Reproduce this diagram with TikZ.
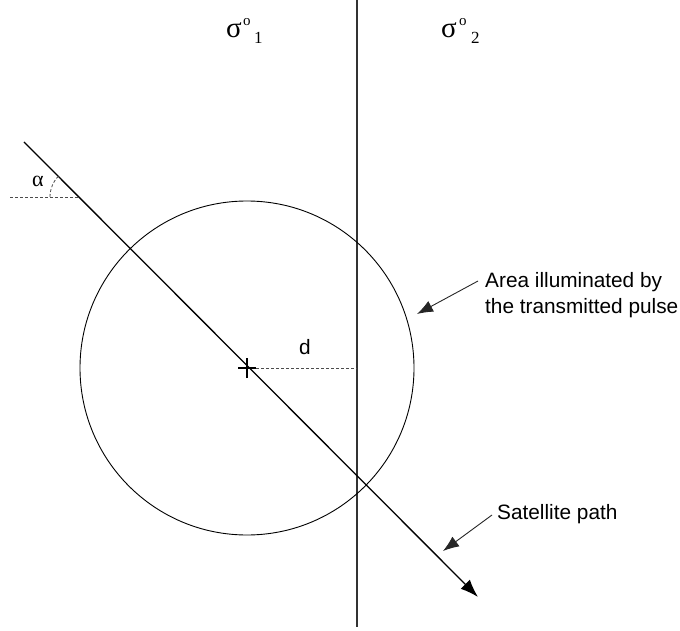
\documentclass[tikz,border=0pt]{standalone}
\usepackage{fontspec}
\setmainfont{Liberation Sans}
\newfontfamily\serifgr{Liberation Serif}
\usetikzlibrary{arrows.meta}
\begin{document}
\begin{tikzpicture}[x=1pt,y=-1pt,
  lbl/.style={inner sep=0pt,anchor=base west,font=\fontsize{20.8}{24}\selectfont},
  dsh/.style={draw=black!70,line width=0.8pt,dash pattern=on 3pt off 2pt},
  pointer/.style={draw=black!85,line width=0.9pt,-{Latex[length=16pt,width=12pt]}},
  sig/.style={inner sep=0pt,anchor=base west,font=\serifgr\fontsize{29}{30}\selectfont},
  sup/.style={inner sep=0pt,anchor=base west,font=\serifgr\fontsize{15}{16}\selectfont},
  sub/.style={inner sep=0pt,anchor=base west,font=\serifgr\fontsize{17}{18}\selectfont}]
\useasboundingbox (0,0) rectangle (680,631);
% boundary line
\coordinate (vt) at (357,0);
\coordinate (vb) at (357,627);
\draw[black!80,line width=1.4pt] (vt) -- (vb);
% circle
\coordinate (c) at (247,368);
\draw[black,line width=0.9pt] (c) circle[radius=167];
% satellite path
\coordinate (ps) at (24,142);
\coordinate (pe) at (478,597);
\draw[black,line width=1.3pt,-{Latex[length=18pt,width=13pt]}] (ps) -- (pe);
% center cross
\draw[black,line width=1.8pt] ([xshift=-9pt]c) -- ([xshift=9pt]c);
\draw[black,line width=1.8pt] ([yshift=-10pt]c) -- ([yshift=10pt]c);
% d
\coordinate (dr) at (357,368);
\draw[dsh] ([xshift=9pt]c) -- (dr);
\node[lbl] (dl) at (299,354) {d};
% alpha
\coordinate (ai) at (80,197);
\coordinate (al) at (10,197);
\draw[dsh] (al) -- (ai);
\draw[dsh] (50,197) arc[start angle=180,end angle=225,radius=30];
\node[inner sep=0pt,anchor=base west,font=\serifgr\fontsize{22}{24}\selectfont] (alpha) at (32,187) {α};
% sigma labels
\node[sig] (s1) at (226,38) {σ};
\node[sup] (s1o) at (243,26) {o};
\node[sub] (s1i) at (254,44) {1};
\node[sig] (s2) at (441,38) {σ};
\node[sup] (s2o) at (459,26) {o};
\node[sub] (s2i) at (471,44) {2};
% annotations
\node[lbl] (area1) at (485,287) {Area illuminated by};
\node[lbl] (area2) at (485,313) {the transmitted pulse};
\coordinate (aa) at (478,281);
\coordinate (at) at (417,314);
\draw[pointer] (aa) -- (at);
\node[lbl] (sat) at (497,519) {Satellite path};
\coordinate (sa) at (492,515);
\coordinate (st) at (443,551);
\draw[pointer] (sa) -- (st);
\end{tikzpicture}
\end{document}
